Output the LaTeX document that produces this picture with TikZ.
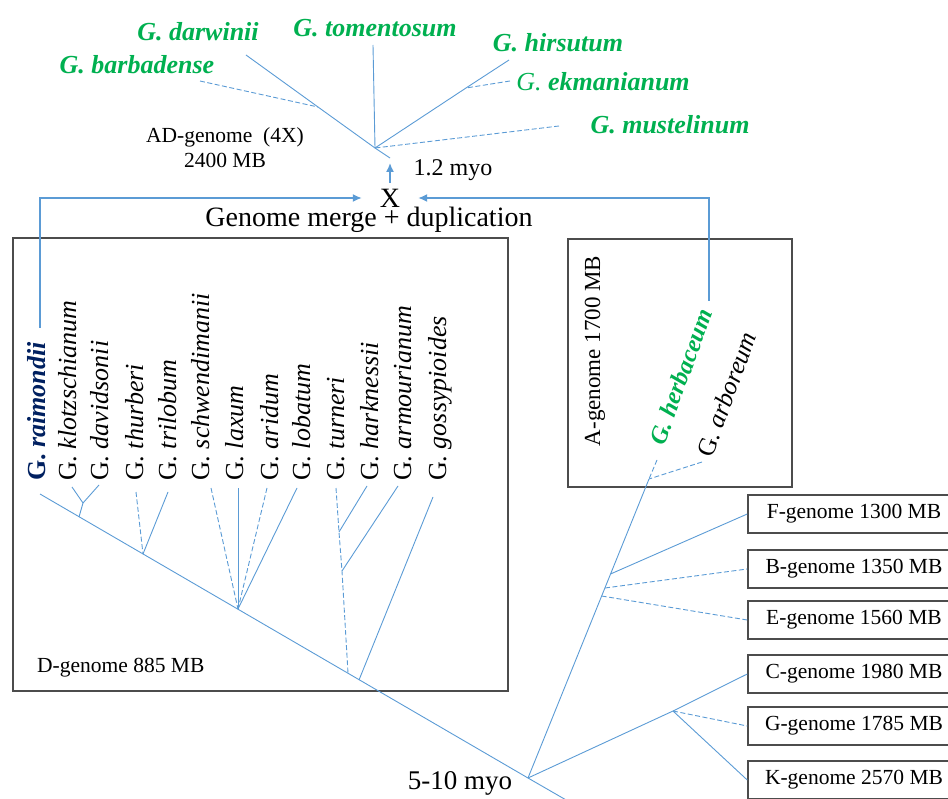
\documentclass[tikz,border=0pt]{standalone}
\usepackage{fontspec}
\setmainfont{Liberation Serif}
\usepackage{xcolor}
\usetikzlibrary{arrows.meta}

\definecolor{treeblue}{RGB}{91,155,213}
\definecolor{spgreen}{RGB}{0,176,80}
\definecolor{spnavy}{RGB}{0,32,96}

\begin{document}
\begin{tikzpicture}[
  x=1pt, y=-1pt,
  >=Latex,
  br/.style={draw=treeblue, line width=0.9pt},
  brd/.style={br, dash pattern=on 5pt off 2.5pt},
  arr/.style={draw=treeblue, line width=1.5pt, -{Latex[length=9pt,width=8pt]}},
  frame/.style={draw=black!70, line width=1.5pt},
  gbox/.style={frame, minimum width=212pt, minimum height=38pt, inner sep=0pt, font=\fontsize{21.5}{24}\selectfont},
  lbl/.style={font=\fontsize{21.5}{24}\selectfont, inner sep=0pt},
  dsp/.style={font=\fontsize{26}{30}\selectfont, inner sep=0pt, rotate=90, anchor=base west},
  adsp/.style={font=\fontsize{26}{30}\selectfont\bfseries\itshape, text=spgreen, inner sep=0pt}
]
\useasboundingbox (0,0) rectangle (948,799);
\clip (0,0) rectangle (948,799);

% frames
\draw[frame] (13,238) rectangle (508,691);
\draw[frame] (568,239) rectangle (792,487);
\node[lbl, anchor=west] (dlab) at (37,668) {D-genome 885 MB};
\node[lbl, rotate=90, font=\fontsize{23}{26}\selectfont] (alab) at (595,351) {A-genome 1700 MB};

% AD-genome
\node[adsp] (darw) at (198,32) {G. darwinii};
\node[adsp] (tome) at (375,28) {G. tomentosum};
\node[adsp] (hirs) at (558,43) {G. hirsutum};
\node[adsp] (barb) at (137,65) {G. barbadense};
\node[adsp, font=\fontsize{26}{30}\selectfont] (ekma) at (603,82) {\textit{G.} \textbf{\textit{ekmanianum}}};
\node[adsp] (must) at (670,125) {G. mustelinum};
\node[lbl] (adg) at (225,137) {AD-genome\ \ (4X)};
\node[lbl] (adm) at (225,160) {2400 MB};
\node[lbl, font=\fontsize{24}{28}\selectfont] (myo1) at (453,170) {1.2 myo};

\coordinate (darwtip) at (246,55);
\coordinate (barbtip) at (200,81);
\coordinate (bnode) at (318,107);
\coordinate (tometip) at (373,45);
\coordinate (hirstip) at (509,60);
\coordinate (ekmatip) at (510,81);
\coordinate (hnode) at (466,88);
\coordinate (musttip) at (559,126);
\coordinate (adnode) at (375,148);
\coordinate (adroot) at (390,158);
\draw[br] (darwtip) -- (bnode) -- (adnode) -- (adroot);
\draw[brd] (barbtip) -- (bnode);
\draw[br] (tometip) -- (adnode);
\draw[br] (hirstip) -- (hnode) -- (adnode);
\draw[brd] (ekmatip) -- (hnode);
\draw[brd] (musttip) -- (adnode);

% merge
\node[font=\fontsize{28}{32}\selectfont, inner sep=0pt, minimum width=56pt] (X) at (390,198) {X};
\node[font=\fontsize{28}{32}\selectfont, inner sep=0pt] (merge) at (369,220) {Genome merge + duplication};

% D-genome species
\node[dsp, text=spnavy] (rai) at (45,481) {\textbf{G. \textit{raimondii}}};
\node[dsp] (klo) at (76,481) {G. \textit{klotzschianum}};
\node[dsp] (dav) at (108,481) {G. \textit{davidsonii}};
\node[dsp] (thu) at (143,481) {G. \textit{thurberi}};
\node[dsp] (tri) at (176,481) {G. \textit{trilobum}};
\node[dsp] (sch) at (209,481) {G. \textit{schwendimanii}};
\node[dsp] (lax) at (243,481) {G. \textit{laxum}};
\node[dsp] (ari) at (278,481) {G. \textit{aridum}};
\node[dsp] (lob) at (310,481) {G. \textit{lobatum}};
\node[dsp] (tur) at (344,481) {G. \textit{turneri}};
\node[dsp] (har) at (378,481) {G. \textit{harknessii}};
\node[dsp] (arm) at (411,481) {G. \textit{armourianum}};
\node[dsp] (gos) at (446,481) {G. \textit{gossypioides}};

% A-genome species
\node[font=\fontsize{24.5}{28}\selectfont\bfseries\itshape, text=spgreen, inner sep=0pt, rotate=70, anchor=base west] (her) at (664,447) {G. herbaceum};
\node[font=\fontsize{25.5}{30}\selectfont, inner sep=0pt, rotate=70, anchor=base west] (arb) at (712,459) {G. \textit{arboreum}};

% other genomes
\node[gbox] (F) at (854,514) {F-genome 1300 MB};
\node[gbox] (B) at (854,569) {B-genome 1350 MB};
\node[gbox] (E) at (854,620) {E-genome 1560 MB};
\node[gbox] (C) at (854,674) {C-genome 1980 MB};
\node[gbox] (G) at (854,726) {G-genome 1785 MB};
\node[gbox] (K) at (854,780) {K-genome 2570 MB};
\node[font=\fontsize{27}{30}\selectfont, inner sep=0pt] (myo2) at (460,783) {5-10 myo};

% D tree
\coordinate (raitip) at (40,494);
\coordinate (root) at (528,778);
\coordinate (rootend) at (580,808);
\coordinate (d1) at (79,517);
\coordinate (d2) at (143,554);
\coordinate (d3) at (238,609);
\coordinate (d4) at (348,673);
\coordinate (d5) at (359,680);
\coordinate (klotip) at (72,487);
\coordinate (davtip) at (99,485);
\coordinate (kd) at (83,503);
\coordinate (thutip) at (136,492);
\coordinate (tritip) at (168,492);
\coordinate (schtip) at (211,488);
\coordinate (laxtip) at (238,488);
\coordinate (aritip) at (267,488);
\coordinate (lobtip) at (297,488);
\coordinate (turtip) at (336,488);
\coordinate (hartip) at (367,486);
\coordinate (armtip) at (398,486);
\coordinate (gostip) at (433,497);
\coordinate (th) at (339,532);
\coordinate (ta) at (342,571);
\draw[br] (raitip) -- (root) -- (rootend);
\draw[br] (klotip) -- (kd) -- (d1);
\draw[br] (davtip) -- (kd);
\draw[brd] (thutip) -- (d2);
\draw[br] (tritip) -- (d2);
\draw[brd] (schtip) -- (d3);
\draw[br] (laxtip) -- (d3);
\draw[brd] (aritip) -- (d3);
\draw[br] (lobtip) -- (d3);
\draw[brd] (turtip) -- (th) -- (ta) -- (d4);
\draw[br] (hartip) -- (th);
\draw[br] (armtip) -- (ta);
\draw[br] (gostip) -- (d5);

% A and other genomes tree
\coordinate (anode) at (649,479);
\coordinate (fnode) at (610.5,574);
\coordinate (bnode2) at (605,588);
\coordinate (enode) at (601.7,596);
\coordinate (cgk) at (673,711);
\coordinate (hertip) at (657,460);
\coordinate (arbtip) at (702,462);
\draw[br] (root) -- (anode);
\draw[brd] (hertip) -- (anode);
\draw[brd] (arbtip) -- (anode);
\draw[br] (fnode) -- (F.west);
\draw[brd] (bnode2) -- (B.west);
\draw[brd] (enode) -- (E.west);
\draw[br] (root) -- (cgk) -- (C.west);
\draw[brd] (cgk) -- (G.west);
\draw[br] (cgk) -- (K.west);

% merge arrows
\coordinate (raitop) at (40,328);
\coordinate (hertop) at (709,301);
\draw[arr] (raitop) |- (X.west);
\draw[arr] (hertop) |- (X.east);
\draw[arr, shorten <=6pt, shorten >=5pt] (X.north) -- (adroot);
\end{tikzpicture}
\end{document}
